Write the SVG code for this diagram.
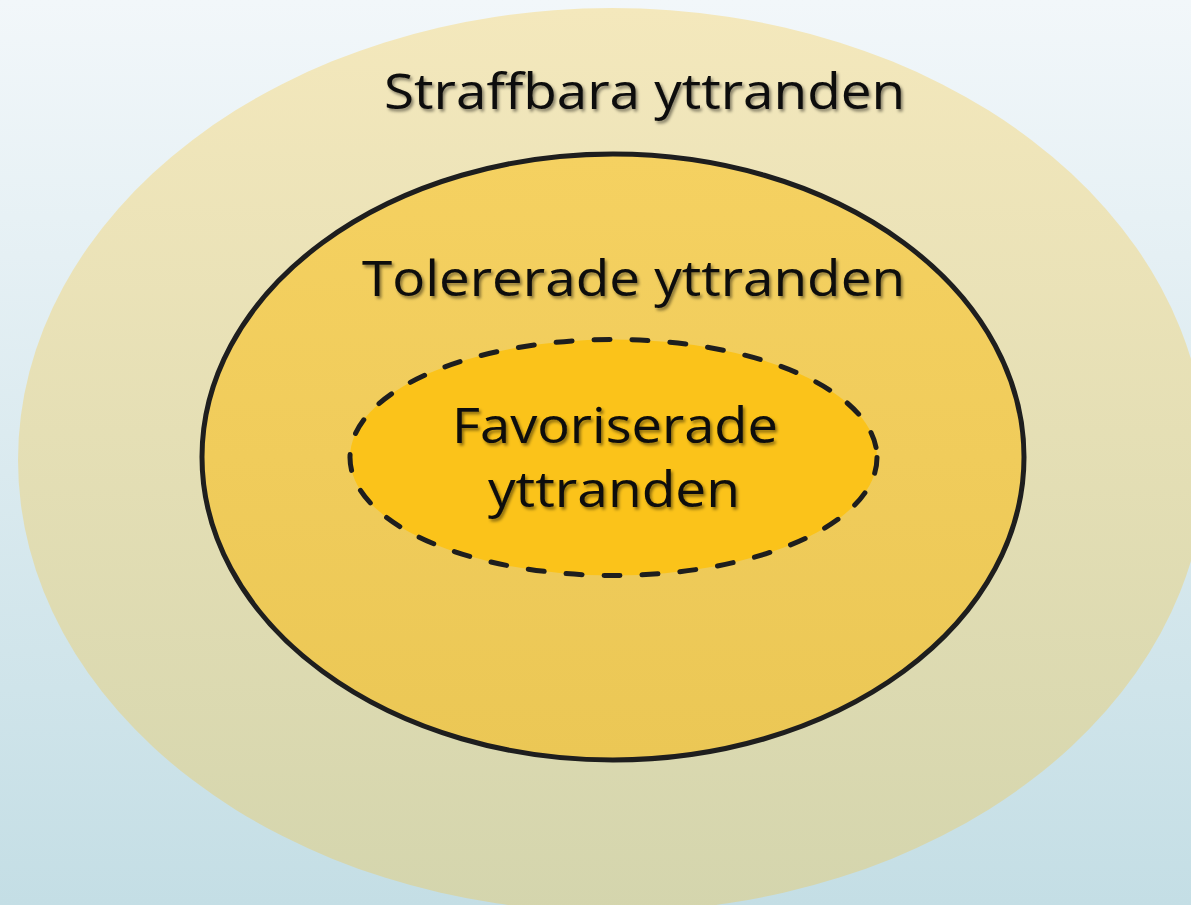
<svg xmlns="http://www.w3.org/2000/svg" width="1191" height="905" viewBox="0 0 1191 905">
  <defs>
    <linearGradient id="bg" x1="0" y1="0" x2="0" y2="1">
      <stop offset="0" stop-color="#F2F7FA"/>
      <stop offset="1" stop-color="#C4DEE5"/>
    </linearGradient>
    <linearGradient id="outerFill" x1="0" y1="0" x2="0" y2="1">
      <stop offset="0" stop-color="#F4E8BC"/>
      <stop offset="1" stop-color="#D4D5AD"/>
    </linearGradient>
    <linearGradient id="midFill" x1="0" y1="0" x2="0" y2="1">
      <stop offset="0" stop-color="#F5D161"/>
      <stop offset="1" stop-color="#EBC755"/>
    </linearGradient>
    <filter id="shadow" x="-10%" y="-30%" width="120%" height="160%">
      <feDropShadow dx="2" dy="2.5" stdDeviation="1.6" flood-color="#000" flood-opacity="0.45"/>
    </filter>
  </defs>
  <style>
    .label { font-family: "Open Sans", "Liberation Sans", Arial, sans-serif; font-weight: 400; font-size: 50px; fill: #0A0A0A; filter: url(#shadow); }
    .solid { stroke: #1E1E1E; stroke-width: 5; }
    .dashed { stroke: #1E1E1E; stroke-width: 5; stroke-dasharray: 16 22; stroke-linecap: round; }
  </style>
  <rect x="0" y="0" width="1191" height="905" fill="url(#bg)"/>
  <g id="straffbara">
    <ellipse cx="612" cy="460" rx="594" ry="452" fill="url(#outerFill)"/>
    <text class="label" x="384" y="109" textLength="521" lengthAdjust="spacingAndGlyphs">Straffbara yttranden</text>
  </g>
  <g id="tolererade">
    <ellipse class="solid" cx="613" cy="457" rx="411" ry="303" fill="url(#midFill)"/>
    <text class="label" x="362" y="296" textLength="543" lengthAdjust="spacingAndGlyphs">Tolererade yttranden</text>
  </g>
  <g id="favoriserade">
    <ellipse class="dashed" cx="613.5" cy="457.5" rx="263.5" ry="118" fill="#FBC31A"/>
    <text class="label" x="452" y="443" textLength="326" lengthAdjust="spacingAndGlyphs">Favoriserade</text>
    <text class="label" x="488" y="507" textLength="252" lengthAdjust="spacingAndGlyphs">yttranden</text>
  </g>
  <g id="connectors"/>
</svg>
